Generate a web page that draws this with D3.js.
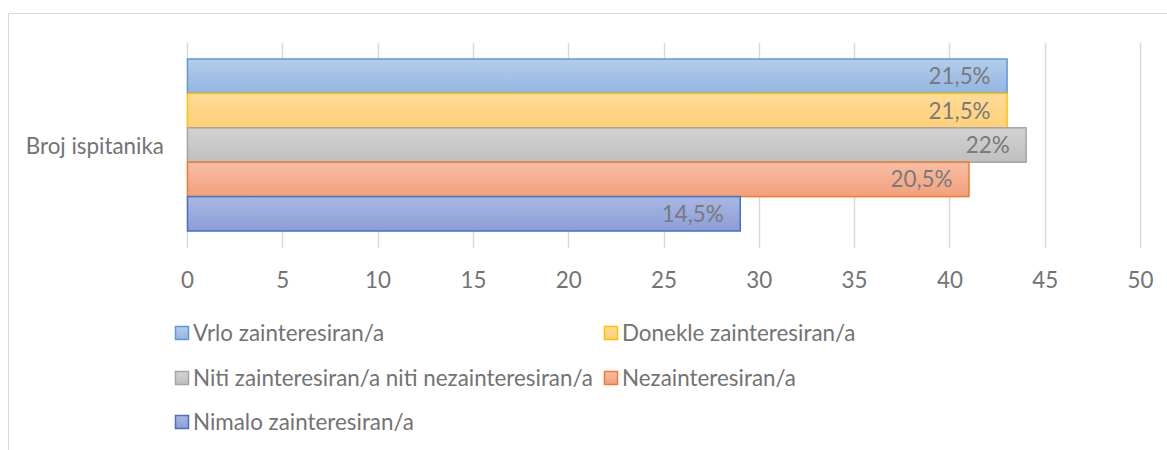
<!DOCTYPE html>
<html>
<head>
<meta charset="utf-8">
<script src="https://cdn.jsdelivr.net/npm/d3@7"></script>
<style>
  body { margin: 0; background: #fff; }
  svg { display: block; font-family: Lato, "Open Sans", sans-serif; }
</style>
</head>
<body>
<div id="chart"></div>
<script>
const category = 'Broj ispitanika';
const seriesNames = ['Vrlo zainteresiran/a', 'Donekle zainteresiran/a',
  'Niti zainteresiran/a niti nezainteresiran/a', 'Nezainteresiran/a', 'Nimalo zainteresiran/a'];
const values = [43, 43, 44, 41, 29];
const percentLabels = ['21,5%', '21,5%', '22%', '20,5%', '14,5%'];
const xTicks = [0, 5, 10, 15, 20, 25, 30, 35, 40, 45, 50];

// fill gradient top, bottom and border of each series
const colours = [
  { top: '#b4cdea', bottom: '#92b5e3', line: '#5b9bd5' },
  { top: '#ffdc98', bottom: '#ffd077', line: '#ffc000' },
  { top: '#d3d3d3', bottom: '#bfbfbf', line: '#a5a5a5' },
  { top: '#f7bea4', bottom: '#f2a07c', line: '#ed7d31' },
  { top: '#a9b7e3', bottom: '#8b9ed6', line: '#4472c4' }
];

const w = 1167, h = 450;
const fontSize = 22.4;
const svg = d3.select('#chart').append('svg')
  .attr('width', w).attr('height', h);

// chart frame
svg.append('path')
  .attr('d', `M8.5,${h} V13.5 H${w}`)
  .attr('fill', 'none').attr('stroke', '#d9d9d9').attr('stroke-width', 1);

const defs = svg.append('defs');
colours.forEach((c, i) => {
  const g = defs.append('linearGradient').attr('id', 'grad' + i)
    .attr('x1', 0).attr('y1', 0).attr('x2', 0).attr('y2', 1);
  g.append('stop').attr('offset', '0%').attr('stop-color', c.top);
  g.append('stop').attr('offset', '100%').attr('stop-color', c.bottom);
});

const xScale = d3.scaleLinear().domain([0, 50]).range([187, 1140]);
const plotTop = 43, plotBottom = 248;

const yBand = d3.scaleBand().domain([category]).range([plotTop, plotBottom]);
const ySeries = d3.scaleBand().domain(d3.range(values.length))
  .range([plotTop + 16, plotBottom - 17]);

// gridlines
svg.append('g').selectAll('line')
  .data(xTicks)
  .enter().append('line')
  .attr('x1', d => Math.round(xScale(d)) + 0.5)
  .attr('x2', d => Math.round(xScale(d)) + 0.5)
  .attr('y1', plotTop).attr('y2', plotBottom)
  .attr('stroke', '#d9d9d9').attr('stroke-width', 1.5);

// x axis labels
const xAxis = d3.axisBottom(xScale).tickValues(xTicks).tickSize(0).tickPadding(0);
const xg = svg.append('g')
  .attr('transform', 'translate(0,' + 288 + ')')
  .call(xAxis);
xg.select('.domain').remove();
xg.selectAll('text')
  .attr('dy', 0)
  .attr('font-size', fontSize)
  .attr('font-family', 'Lato, sans-serif')
  .attr('fill', '#737373');

// bars
svg.append('g').selectAll('rect')
  .data(values)
  .enter().append('rect')
  .attr('x', xScale(0) + 0.5)
  .attr('y', (d, i) => ySeries(i))
  .attr('width', d => xScale(d) - xScale(0))
  .attr('height', ySeries.bandwidth())
  .attr('fill', (d, i) => 'url(#grad' + i + ')')
  .attr('stroke', (d, i) => colours[i].line)
  .attr('stroke-width', 1.5);

// data labels
svg.append('g').selectAll('text')
  .data(values)
  .enter().append('text')
  .attr('x', d => xScale(d) - 16)
  .attr('y', (d, i) => ySeries(i) + ySeries.bandwidth() / 2 + 8)
  .attr('text-anchor', 'end')
  .attr('font-size', fontSize)
  .attr('fill', '#7a7a7a')
  .text((d, i) => percentLabels[i]);

// category label
svg.append('text')
  .attr('x', 164)
  .attr('y', yBand(category) + yBand.bandwidth() / 2 + 8)
  .attr('text-anchor', 'end')
  .attr('font-size', fontSize)
  .attr('fill', '#737373')
  .text(category);

// legend
const legendPos = [[175, 333], [604, 333], [175, 378], [604, 378], [175, 422]];
const lg = svg.append('g').selectAll('g')
  .data(seriesNames)
  .enter().append('g')
  .attr('transform', (d, i) => 'translate(' + legendPos[i][0] + ',' + legendPos[i][1] + ')');
lg.append('rect')
  .attr('x', 0.5).attr('y', -6.5)
  .attr('width', 13).attr('height', 13)
  .attr('fill', (d, i) => 'url(#grad' + i + ')')
  .attr('stroke', (d, i) => colours[i].line)
  .attr('stroke-width', 1.5);
lg.append('text')
  .attr('x', 18).attr('y', 8)
  .attr('font-size', fontSize)
  .attr('fill', '#737373')
  .text(d => d);
</script>
</body>
</html>
